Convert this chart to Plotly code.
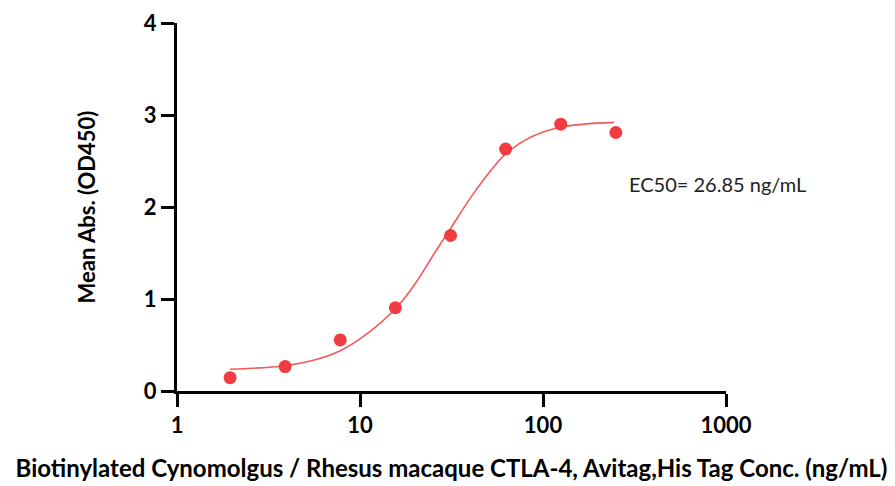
import plotly.graph_objects as go

# Measured points
conc = [1.95, 3.9, 7.8, 15.6, 31.25, 62.5, 125, 250]
od = [0.145, 0.265, 0.555, 0.905, 1.69, 2.63, 2.90, 2.81]

# Fitted curve points
curve_x = [1.95, 3.9, 5.63, 7.8, 11.0, 15.7, 19.8, 25.5, 31.3, 40.5, 52.0, 62.8, 86, 126, 245]
curve_y = [0.236, 0.275, 0.337, 0.438, 0.627, 0.899, 1.152, 1.497, 1.768, 2.11, 2.40, 2.58, 2.76, 2.87, 2.92]

xticks = [1, 10, 100, 1000]
xticklabels = ["1", "10", "100", "1000"]
yticks = [0, 1, 2, 3, 4]

FONT = "Lato"

fig = go.Figure()
fig.add_trace(go.Scatter(x=curve_x, y=curve_y, mode="lines",
                         line=dict(color="#F05A5A", width=1.6, shape="spline", smoothing=1.0),
                         hoverinfo="skip", showlegend=False))
fig.add_trace(go.Scatter(x=conc, y=od, mode="markers",
                         marker=dict(color="#F03C41", size=13),
                         showlegend=False, cliponaxis=False))

fig.add_annotation(x=2.459, y=2.25, xref="x", yref="y", text="EC50= 26.85 ng/mL",
                   showarrow=False, xanchor="left", yanchor="middle",
                   font=dict(family=FONT, size=20, color="#222"))

axis_font = dict(family=FONT, size=22, color="black", weight="bold")
fig.update_layout(
    width=895, height=486,
    margin=dict(l=169, r=177, t=15, b=103),
    paper_bgcolor="white", plot_bgcolor="white",
    xaxis=dict(type="log", range=[0, 3], tickvals=xticks, ticktext=xticklabels,
               showline=True, linecolor="black", linewidth=3, automargin=False,
               ticks="outside", ticklen=13, tickwidth=3, tickcolor="black",
               showgrid=False, zeroline=False, tickfont=axis_font,
               title=dict(text="Biotinylated Cynomolgus / Rhesus macaque CTLA-4, Avitag,His Tag Conc. (ng/mL)",
                          font=dict(family=FONT, size=24, color="black", weight="bold"),
                          standoff=23)),
    yaxis=dict(range=[0, 4], tickvals=yticks,
               showline=True, linecolor="black", linewidth=3, automargin=False,
               ticks="outside", ticklen=13, tickwidth=3, tickcolor="black",
               showgrid=False, zeroline=False, tickfont=axis_font,
               title=dict(text="Mean Abs. (OD450)",
                          font=dict(family=FONT, size=22, color="black", weight="bold"),
                          standoff=43)),
)

fig.write_html("out.html")
